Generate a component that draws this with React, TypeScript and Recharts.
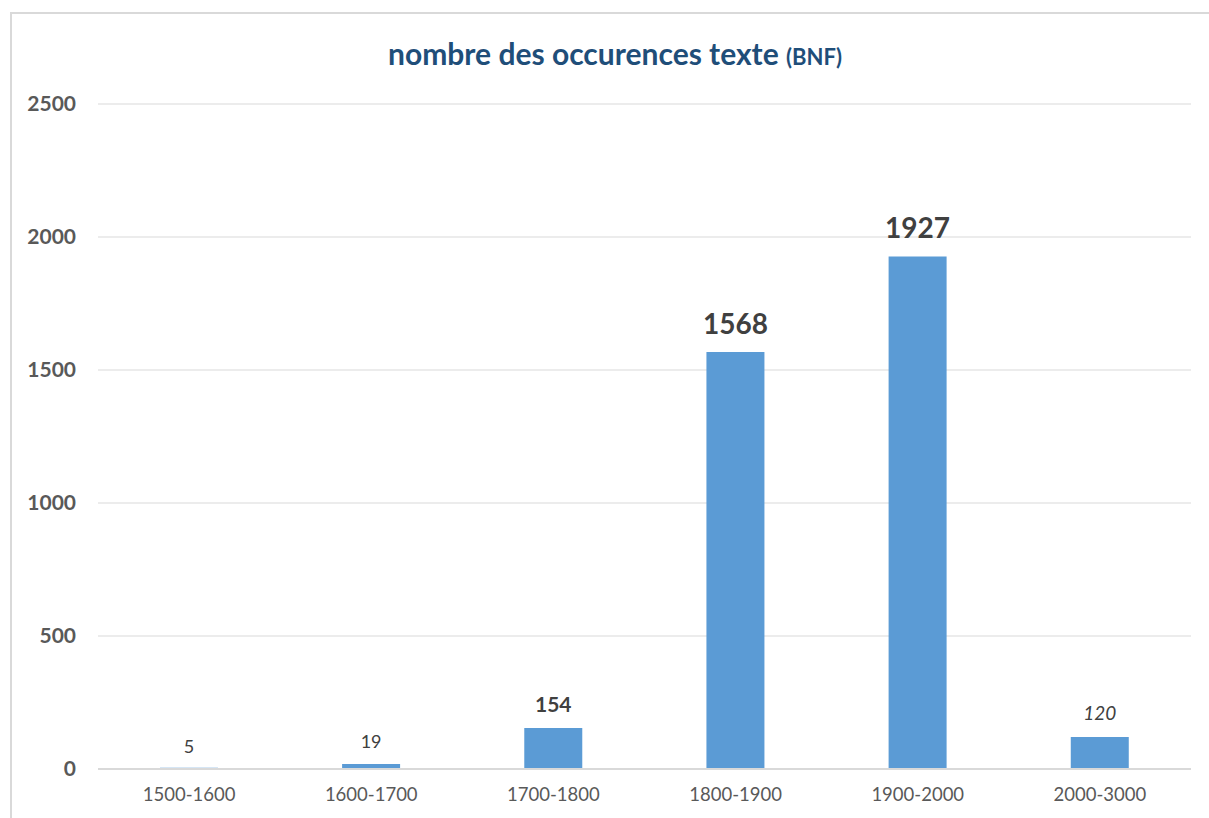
import { BarChart, Bar, XAxis, YAxis, CartesianGrid, LabelList } from "recharts";

const PERIODS = ["1500-1600", "1600-1700", "1700-1800", "1800-1900", "1900-2000", "2000-3000"];
const OCCURRENCES = [5, 19, 154, 1568, 1927, 120];
const Y_TICKS = [0, 500, 1000, 1500, 2000, 2500];

// per-bar label look, as in the original sheet
const LABEL_LOOK = [
  { size: 18, weight: 400, italic: false, gap: 22 },
  { size: 18, weight: 400, italic: false, gap: 23 },
  { size: 21, weight: 700, italic: false, gap: 25 },
  { size: 28, weight: 700, italic: false, gap: 29 },
  { size: 28, weight: 700, italic: false, gap: 29 },
  { size: 19, weight: 400, italic: true, gap: 25 },
];

const data = PERIODS.map((period, i) => ({ period, value: OCCURRENCES[i] }));

const FONT = "Lato, 'Open Sans', sans-serif";

function ValueLabel(props: any) {
  const { x, y, width, value, index } = props;
  const look = LABEL_LOOK[index] ?? LABEL_LOOK[0];
  return (
    <text
      x={Number(x) + Number(width) / 2}
      y={Number(y) - look.gap}
      textAnchor="middle"
      dominantBaseline="central"
      fill="#404040"
      fontFamily={FONT}
      fontSize={look.size}
      fontWeight={look.weight}
      fontStyle={look.italic ? "italic" : "normal"}
    >
      {value}
    </text>
  );
}

export default function App() {
  return (
    <div
      style={{
        position: "absolute",
        left: 0,
        top: 0,
        width: 1209,
        height: 818,
        overflow: "hidden",
        background: "#fff",
        fontFamily: FONT,
      }}
    >
      <div
        style={{
          position: "absolute",
          left: 10,
          top: 12,
          width: 1240,
          height: 840,
          borderLeft: "2px solid #d9d9d9",
          borderTop: "2px solid #d9d9d9",
        }}
      />
      <div
        style={{
          position: "absolute",
          left: 0,
          width: 1230,
          top: 35,
          textAlign: "center",
          color: "#1f4e79",
          fontWeight: 700,
          fontSize: 30,
        }}
      >
        nombre des occurences texte <span style={{ fontSize: 22 }}>(BNF)</span>
      </div>
      <div style={{ position: "absolute", left: 0, top: 0 }}>
        <BarChart
          width={1209}
          height={818}
          data={data}
          margin={{ top: 104, right: 18, bottom: 19, left: 0 }}
          barCategoryGap="34%"
        >
          <CartesianGrid horizontal vertical={false} stroke="#d9d9d9" />
          <XAxis
            dataKey="period"
            height={30}
            tickSize={0}
            tickMargin={19}
            axisLine={{ stroke: "#d9d9d9", strokeWidth: 2 }}
            tick={{ fill: "#595959", fontSize: 18.5, fontFamily: FONT }}
            interval={0}
          />
          <YAxis
            width={98}
            domain={[0, 2500]}
            ticks={Y_TICKS}
            tickSize={0}
            tickMargin={22}
            axisLine={false}
            tick={{ fill: "#595959", fontSize: 21, fontWeight: 700, fontFamily: FONT }}
          />
          <Bar dataKey="value" fill="#5b9bd5" isAnimationActive={false}>
            <LabelList dataKey="value" content={<ValueLabel />} />
          </Bar>
        </BarChart>
      </div>
    </div>
  );
}
